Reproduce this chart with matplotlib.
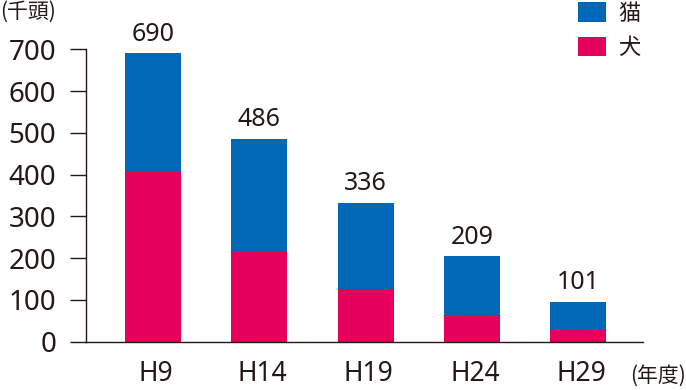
import matplotlib
matplotlib.use("Agg")
import matplotlib.pyplot as plt
import numpy as np

plt.rcParams['font.family'] = ['Noto Sans', 'Noto Sans CJK JP', 'DejaVu Sans']

years = ['H9', 'H14', 'H19', 'H24', 'H29']
dogs = [407, 215, 127, 64, 28]
cats = [283, 271, 206, 140, 66]
totals = [690, 486, 336, 209, 101]

blue = '#0068B7'
pink = '#E4005B'
ink = '#231815'

fig = plt.figure(figsize=(6.86, 3.9), dpi=100)
ax = fig.add_axes([86 / 686, 1 - 341.7 / 390, (643 - 86) / 686, 292.4 / 390])

x = np.arange(len(years))
w = 0.527
b_dog = ax.bar(x, dogs, w, color=pink, label='犬')
b_cat = ax.bar(x, cats, w, bottom=dogs, color=blue, label='猫')

for xi, top, t in zip(x, np.array(dogs) + np.array(cats), totals):
    ax.annotate(str(t), (xi, top), xytext=(0, 5), textcoords='offset points',
                ha='center', va='bottom', fontsize=18, color=ink)

ax.set_xlim(-0.63, 4.61)
ax.set_ylim(0, 700)
ax.set_yticks(range(0, 701, 100))
ax.set_xticks(x + 0.03)
ax.set_xticklabels(years)

for s in ['top', 'right']:
    ax.spines[s].set_visible(False)
for s in ['left', 'bottom']:
    ax.spines[s].set_color(ink)
    ax.spines[s].set_linewidth(1.0)

ax.tick_params(axis='y', length=11.5, width=1.0, color=ink, pad=10,
               labelsize=20, labelcolor=ink)
ax.tick_params(axis='x', length=0, pad=13, labelsize=19, labelcolor=ink)

fig.text(0.0, 1 - 1 / 390, '(千頭)', ha='left', va='top', fontsize=15,
         color=ink, family=['Noto Sans CJK JP', 'DejaVu Sans'])
fig.text(1.0, 1 - 376 / 390, '(年度)', ha='right', va='center', fontsize=15,
         color=ink, family=['Noto Sans CJK JP', 'DejaVu Sans'])

leg = ax.legend(handles=[b_cat, b_dog], labels=['猫', '犬'], loc='upper left',
                bbox_to_anchor=(578 / 686, 1 - 2 / 390), bbox_transform=fig.transFigure,
                frameon=False, borderpad=0, borderaxespad=0,
                handlelength=1.26, handleheight=1.0, handletextpad=0.54,
                labelspacing=0.5, prop={'family': ['Noto Sans CJK JP'], 'size': 16})
for t in leg.get_texts():
    t.set_color(ink)

fig.savefig('out.png', dpi=100)
